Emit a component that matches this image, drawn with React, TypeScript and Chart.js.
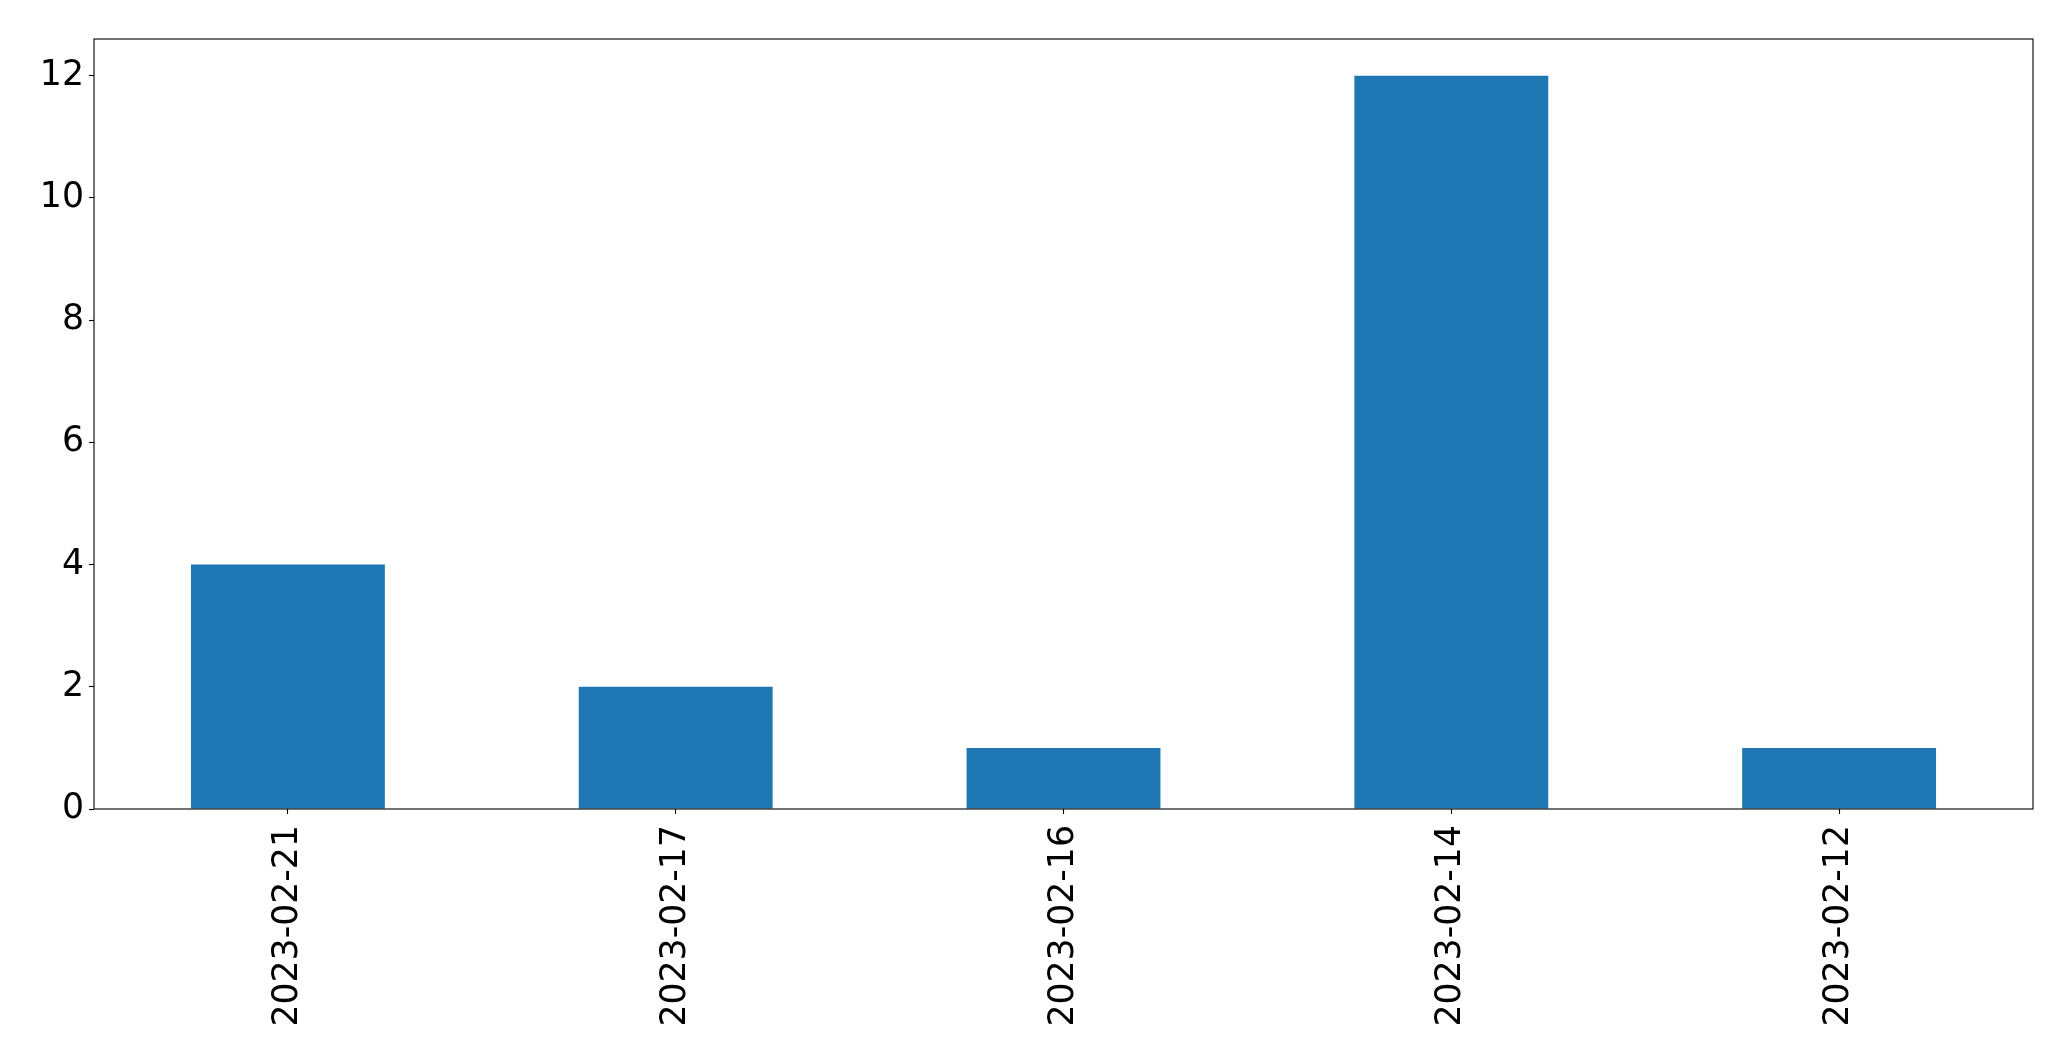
import React, { useEffect, useRef } from "react";
import { Chart, registerables } from "chart.js";

Chart.register(...registerables);

const categories: string[] = ["2023-02-21", "2023-02-17", "2023-02-16", "2023-02-14", "2023-02-12"];
const counts: number[] = [4, 2, 1, 12, 1];
const yTicks: number[] = [0, 2, 4, 6, 8, 10, 12];
const yMax = 12.6;

const FONT = "'DejaVu Sans', sans-serif";

const framePlugin = {
  id: "frame",
  afterDraw(chart: any) {
    const { ctx, chartArea } = chart;
    ctx.save();
    ctx.strokeStyle = "#000";
    ctx.lineWidth = 1.1;
    ctx.strokeRect(chartArea.left, chartArea.top, chartArea.right - chartArea.left, chartArea.bottom - chartArea.top);
    ctx.restore();
  },
};

export default function App() {
  const ref = useRef<HTMLCanvasElement | null>(null);
  useEffect(() => {
    if (!ref.current) return;
    const chart = new Chart(ref.current, {
      type: "bar",
      data: {
        labels: categories,
        datasets: [
          {
            data: counts,
            backgroundColor: "#1f77b4",
            borderWidth: 0,
            categoryPercentage: 1,
            barPercentage: 0.5,
          },
        ],
      },
      options: {
        animation: false,
        responsive: true,
        maintainAspectRatio: false,
        devicePixelRatio: 1,
        layout: { padding: { left: 0, top: 39, right: 38, bottom: 0 } },
        plugins: { legend: { display: false }, tooltip: { enabled: false } },
        scales: {
          x: {
            grid: { display: true, offset: false, drawOnChartArea: false, tickLength: 5, tickColor: "#000", tickWidth: 1.1 },
            border: { display: false },
            ticks: {
              color: "#000",
              font: { family: FONT, size: 34.7 },
              minRotation: 90,
              maxRotation: 90,
              autoSkip: false,
              padding: 11,
            },
            afterFit(scale: any) {
              scale.height = 252;
            },
          },
          y: {
            min: 0,
            max: yMax,
            grid: { display: true, drawOnChartArea: false, tickLength: 5, tickColor: "#000", tickWidth: 1.1 },
            border: { display: false },
            ticks: {
              color: "#000",
              font: { family: FONT, size: 34.7 },
              padding: 5,
            },
            afterBuildTicks(scale: any) {
              scale.ticks = yTicks.map((v) => ({ value: v }));
            },
            afterFit(scale: any) {
              scale.width = 94;
            },
          },
        },
      },
      plugins: [framePlugin],
    });
    return () => chart.destroy();
  }, []);
  return (
    <div style={{ position: "fixed", left: 0, top: 0, width: 2071, height: 1061, background: "#fff" }}>
      <canvas ref={ref} />
    </div>
  );
}
